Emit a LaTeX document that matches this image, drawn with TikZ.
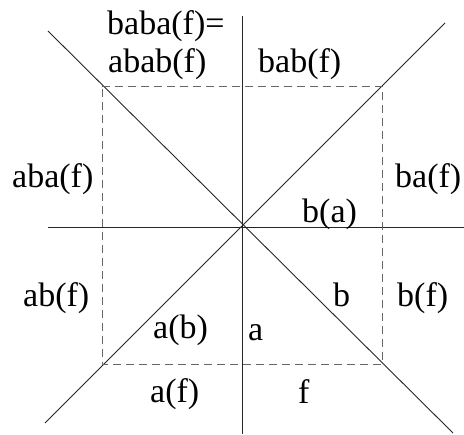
\documentclass[tikz,border=0pt]{standalone}
\usepackage{fontspec}
\setmainfont{Liberation Serif}
\begin{document}
\begin{tikzpicture}[x=1pt,y=-1pt,
  axis/.style={line width=0.9pt,black!85},
  guide/.style={line width=0.9pt,black!60,dash pattern=on 8pt off 5pt},
  lbl/.style={anchor=base west,inner sep=0pt,font=\fontsize{34}{40}\selectfont}]
\useasboundingbox (0,0) rectangle (464,435);
% coordinates
\coordinate (O) at (242.5,227);
\coordinate (vt) at (242.5,16);
\coordinate (vb) at (242.5,434);
\coordinate (hl) at (48,227);
\coordinate (hr) at (464,227);
\coordinate (d1a) at (48,31);
\coordinate (d1b) at (453,433);
\coordinate (d2a) at (445,23);
\coordinate (d2b) at (45,423);
\coordinate (sq1) at (102,86);
\coordinate (sq2) at (382,86);
\coordinate (sq3) at (382,364);
\coordinate (sq4) at (102,364);
% axes
\draw[axis] (vt) -- (vb);
\draw[axis] (hl) -- (hr);
\draw[axis] (d1a) -- (d1b);
\draw[axis] (d2a) -- (d2b);
% dashed square
\draw[guide] (sq1) -- (sq2) -- (sq3) -- (sq4) -- cycle;
% labels
\node[lbl] (l1) at (107,35) {baba(f)=};
\node[lbl] (l2) at (108,73) {abab(f)};
\node[lbl] (l3) at (258,73) {bab(f)};
\node[lbl] (l4) at (12,188) {aba(f)};
\node[lbl] (l5) at (395,188) {ba(f)};
\node[lbl] (l6) at (302,223) {b(a)};
\node[lbl] (l7) at (23,307) {ab(f)};
\node[lbl] (l8) at (333,307) {b};
\node[lbl] (l9) at (397,307) {b(f)};
\node[lbl] (l10) at (153,339) {a(b)};
\node[lbl] (l11) at (248,341) {a};
\node[lbl] (l12) at (150,403) {a(f)};
\node[lbl] (l13) at (298,404) {f};
\end{tikzpicture}
\end{document}
